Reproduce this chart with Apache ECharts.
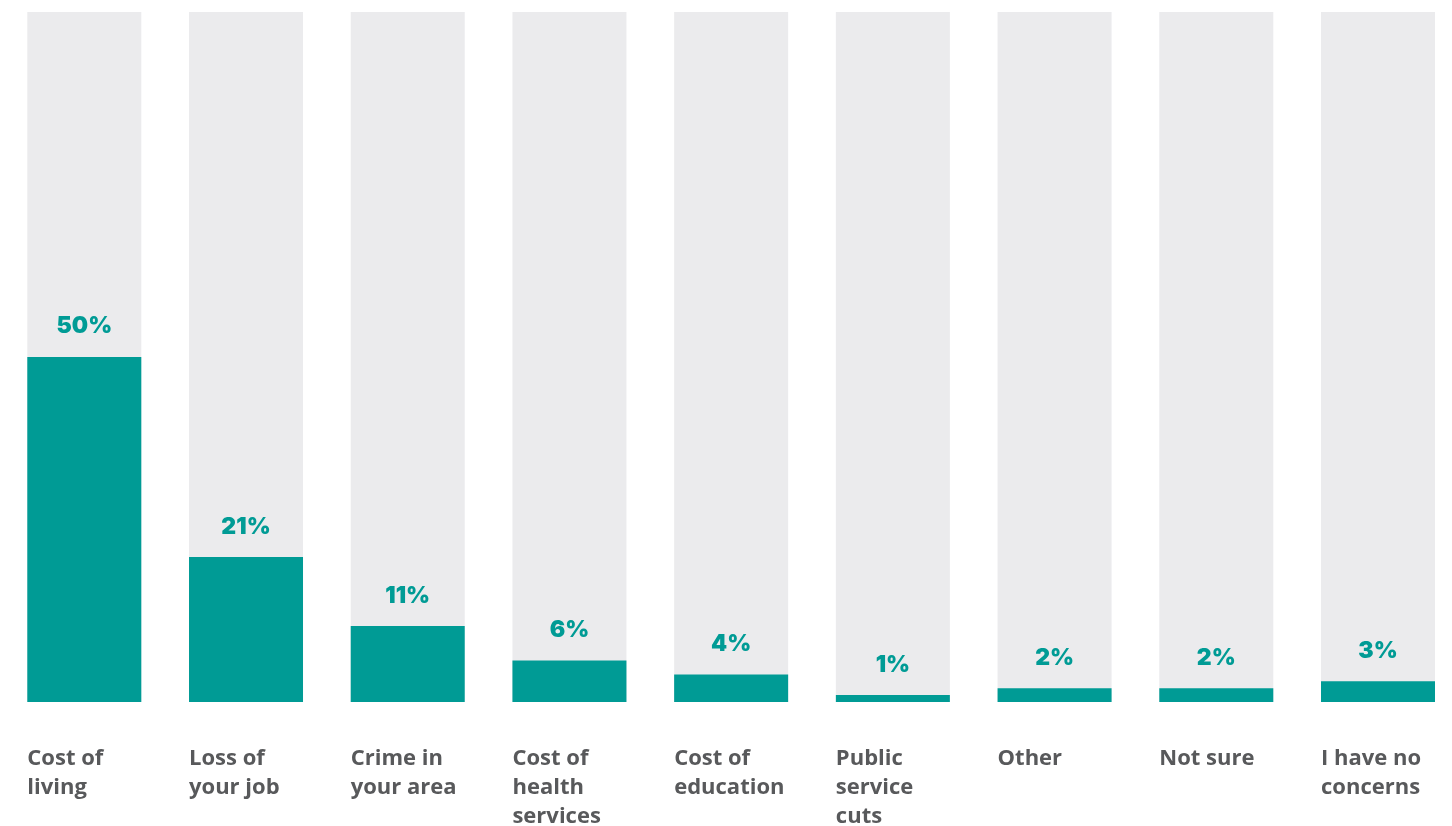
<!DOCTYPE html>
<html>
<head>
<meta charset="utf-8">
<script src="https://cdn.jsdelivr.net/npm/echarts@6/dist/echarts.min.js"></script>
<style>
html,body{margin:0;padding:0;background:#fff;}
#chart{width:1452px;height:826px;}
</style>
</head>
<body>
<div id="chart"></div>
<script>
const categories = ["Cost of\nliving", "Loss of\nyour job", "Crime in\nyour area", "Cost of\nhealth\nservices", "Cost of\neducation", "Public\nservice\ncuts", "Other", "Not sure", "I have no\nconcerns"];
const values = [50, 21, 11, 6, 4, 1, 2, 2, 3];

const chart = echarts.init(document.getElementById('chart'));
chart.setOption({
  animation: false,
  grid: { left: 84.3, top: 12, right: 74, height: 690, containLabel: false, outerBoundsMode: 'none' },
  xAxis: {
    type: 'category',
    data: categories,
    boundaryGap: false,
    axisLine: { show: false },
    axisTick: { show: false },
    splitLine: { show: false },
    axisLabel: {
      margin: 42,
      interval: 0,
      align: 'center',
      verticalAlign: 'top',
      formatter: function (v) {
        return v.split('\n').map(function (s) { return '{a|' + s + '}'; }).join('\n');
      },
      rich: {
        a: {
          width: 114,
          align: 'left',
          fontFamily: 'Open Sans',
          fontWeight: 700,
          fontSize: 22,
          lineHeight: 29,
          color: '#58595B'
        }
      }
    }
  },
  yAxis: {
    type: 'value',
    min: 0,
    max: 100,
    show: false,
    splitLine: { show: false }
  },
  series: [{
    type: 'bar',
    data: values,
    barWidth: 114,
    clip: false,
    itemStyle: { color: '#009B95' },
    showBackground: true,
    backgroundStyle: { color: '#EBEBED' },
    label: {
      show: true,
      position: 'top',
      distance: 19,
      formatter: '{c}%',
      fontFamily: 'Inter',
      fontWeight: 900,
      fontSize: 23,
      color: '#009B95'
    }
  }]
});
</script>
</body>
</html>
